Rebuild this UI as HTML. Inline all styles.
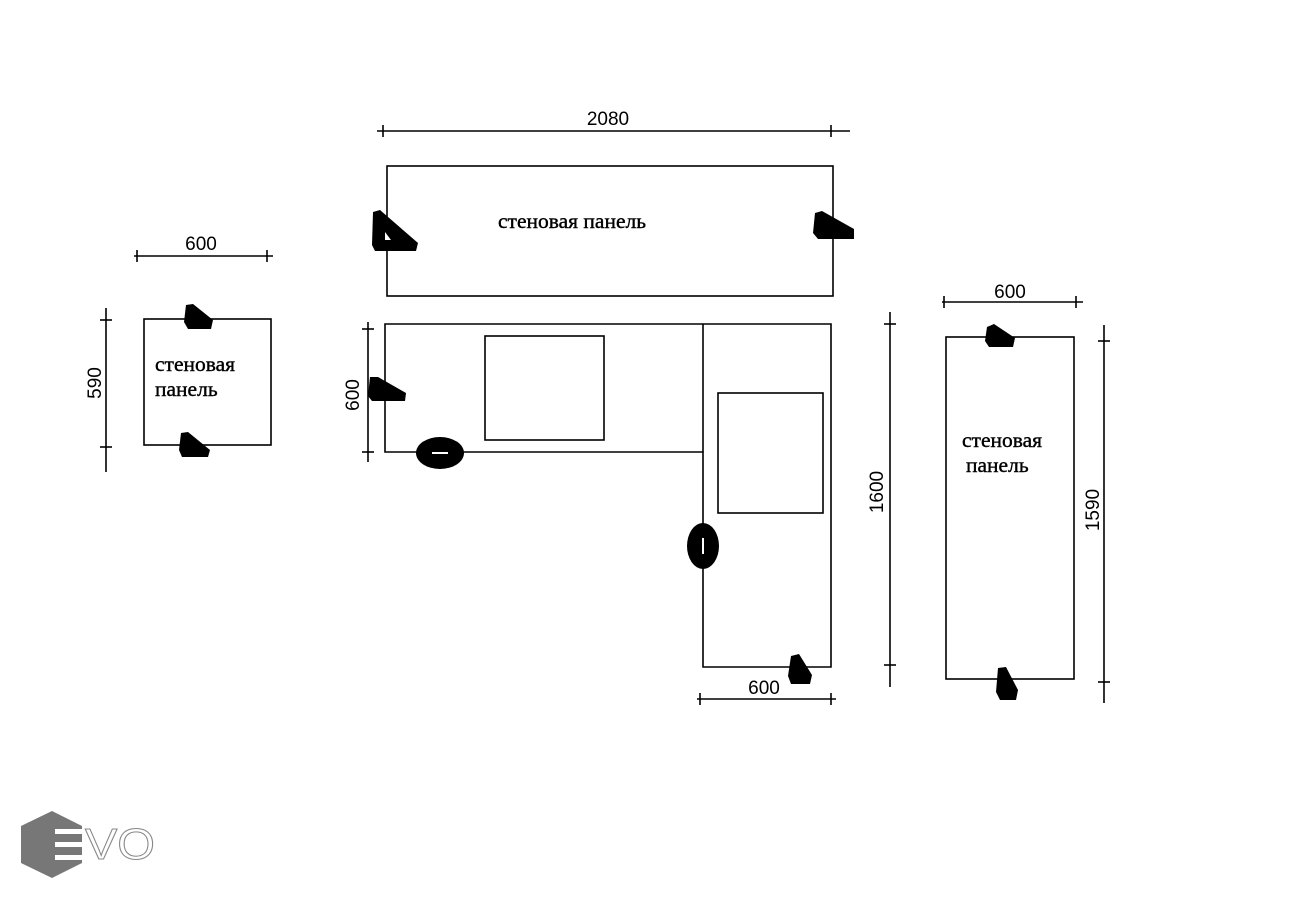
<!DOCTYPE html>
<html><head><meta charset="utf-8"><style>
html,body{margin:0;padding:0;background:#fff;}
svg{display:block}
.s{font-family:"Liberation Sans",sans-serif;font-size:19px;fill:#000}
.r{font-family:"Liberation Serif",serif;font-size:21.5px;fill:#000;stroke:#000;stroke-width:0.4}
</style></head><body>
<svg width="1315" height="900" viewBox="0 0 1315 900" xmlns="http://www.w3.org/2000/svg">
<g stroke="#000" stroke-width="1.6" fill="none">
<rect x="387" y="166" width="446" height="130"/>
<line x1="377" y1="131" x2="850" y2="131"/><line x1="383" y1="125" x2="383" y2="137"/><line x1="831" y1="125" x2="831" y2="137"/>
<rect x="144" y="319" width="127" height="126"/>
<line x1="134" y1="256" x2="273" y2="256"/><line x1="137" y1="250" x2="137" y2="262"/><line x1="267" y1="250" x2="267" y2="262"/>
<line x1="106" y1="308" x2="106" y2="472"/><line x1="100" y1="320" x2="112" y2="320"/><line x1="100" y1="447" x2="112" y2="447"/>
<polygon points="385,324 831,324 831,667 703,667 703,452 385,452"/>
<line x1="703" y1="324" x2="703" y2="452"/>
<rect x="485" y="336" width="119" height="104"/>
<rect x="718" y="393" width="105" height="120"/>
<line x1="368" y1="322" x2="368" y2="462"/><line x1="362" y1="329" x2="374" y2="329"/><line x1="362" y1="452" x2="374" y2="452"/>
<line x1="697" y1="699" x2="836" y2="699"/><line x1="700" y1="693" x2="700" y2="705"/><line x1="831" y1="693" x2="831" y2="705"/>
<line x1="890" y1="312" x2="890" y2="687"/><line x1="884" y1="324" x2="896" y2="324"/><line x1="884" y1="665" x2="896" y2="665"/>
<rect x="946" y="337" width="128" height="342"/>
<line x1="942" y1="302" x2="1083" y2="302"/><line x1="944" y1="296" x2="944" y2="308"/><line x1="1076" y1="296" x2="1076" y2="308"/>
<line x1="1104" y1="325" x2="1104" y2="703"/><line x1="1098" y1="341" x2="1110" y2="341"/><line x1="1098" y1="682" x2="1110" y2="682"/>
</g>
<g fill="#000">
<path d="M373,212 L380,210 L418,243 L416,251 L375,251 L372,245 Z"/>
<path fill="#fff" d="M385,232 L385,240 L391,240 Z"/>
<path d="M815,213 L822,211 L854,229 L854,239 L818,239 L813,233 Z"/>
<path d="M186,305 L193,304 L213,320 L211,329 L188,329 L184,322 Z"/>
<path d="M181,433 L188,432 L210,450 L208,457 L182,457 L179,450 Z"/>
<path d="M370,377 L378,377 L406,393 L405,401 L372,401 L368,396 Z"/>
<ellipse cx="440" cy="453" rx="24" ry="16"/>
<ellipse cx="703" cy="546" rx="16" ry="23"/>
<path d="M791,656 L799,654 L812,675 L810,684 L791,684 L788,676 Z"/>
<path d="M987,327 L994,324 L1015,338 L1013,347 L989,347 L985,341 Z"/>
<path d="M998,668 L1006,667 L1018,690 L1016,700 L1000,700 L996,692 Z"/>
</g>
<g stroke="#fff" stroke-width="2"><line x1="432" y1="453" x2="448" y2="453"/><line x1="703" y1="538" x2="703" y2="554"/></g>
<text class="s" x="608" y="125" text-anchor="middle">2080</text>
<text class="s" x="201" y="250" text-anchor="middle">600</text>
<text class="s" x="1010" y="298" text-anchor="middle">600</text>
<text class="s" x="764" y="694" text-anchor="middle">600</text>
<text class="s" transform="translate(101,383) rotate(-90)" text-anchor="middle">590</text>
<text class="s" transform="translate(359,395) rotate(-90)" text-anchor="middle">600</text>
<text class="s" transform="translate(883,492) rotate(-90)" text-anchor="middle">1600</text>
<text class="s" transform="translate(1099,510) rotate(-90)" text-anchor="middle">1590</text>
<text class="r" x="498" y="228">стеновая панель</text>
<text class="r" x="155" y="371">стеновая</text>
<text class="r" x="155" y="396">панель</text>
<text class="r" x="962" y="447">стеновая</text>
<text class="r" x="966" y="472">панель</text>
<polygon points="52,811 82,826 82,863 52,878 21,863 21,826" fill="#777"/>
<g fill="#fff"><rect x="55" y="829" width="30" height="5"/><rect x="55" y="842" width="30" height="5"/><rect x="55" y="855" width="30" height="5"/></g>
<g fill="#777"><rect x="82" y="828" width="0" height="0"/></g>
<text x="85" y="859" font-family="Liberation Sans,sans-serif" font-size="44" fill="#fff" stroke="#888" stroke-width="1" textLength="70" lengthAdjust="spacingAndGlyphs">VO</text>
</svg>
</body></html>
